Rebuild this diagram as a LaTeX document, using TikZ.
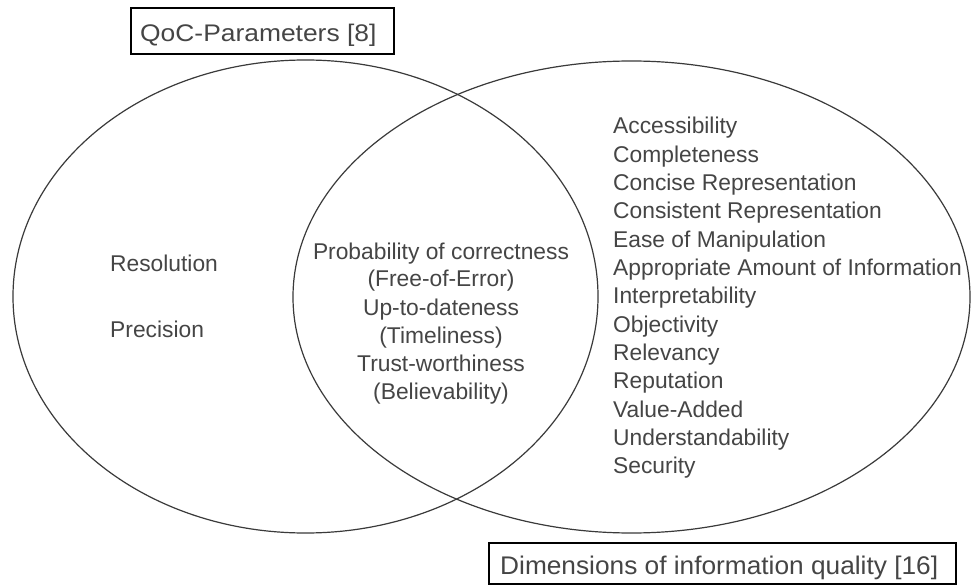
\documentclass[tikz,border=0pt]{standalone}
\usepackage{fontspec}
\setmainfont{Liberation Sans}
\definecolor{inkline}{HTML}{3A3A3A}
\definecolor{inktext}{HTML}{454545}
\begin{document}
\begin{tikzpicture}[x=1pt,y=-1pt,
  label/.style={inner sep=0pt,text=inktext,font=\fontsize{22.8}{28}\selectfont},
  setline/.style={draw=inkline,line width=1.2pt},
  titlebox/.style={draw=black,line width=1.3pt,fill=none}]
\useasboundingbox (0,0) rectangle (971,585);
\fill[white] (0,0) rectangle (971,585);

% the two overlapping sets
\draw[setline] (305.5,296.5) ellipse [x radius=292.5pt, y radius=236.5pt];
\draw[setline] (631.5,297) ellipse [x radius=338.5pt, y radius=236pt];

% set titles in frames
\draw[titlebox] (131,8) rectangle (394,54);
\node[label,anchor=base west,font=\fontsize{24}{28}\selectfont\addfontfeature{FakeStretch=1.1}] (qoc) at (140,42) {QoC-Parameters [8]};
\draw[titlebox] (489,543) rectangle (956,584);
\node[label,anchor=base west,font=\fontsize{25.5}{28}\selectfont\addfontfeature{FakeStretch=1.03}] (diq) at (500,574) {Dimensions of information quality [16]};

% left-only items
\node[label,anchor=base west] (res) at (110,272) {Resolution};
\node[label,anchor=base west] (pre) at (110,337) {Precision};

% shared items
\foreach \t [count=\i] in {Probability of correctness,(Free-of-Error),Up-to-dateness,(Timeliness),Trust-worthiness,(Believability)}
  \node[label,anchor=base] (mid\i) at (441,{259+28*(\i-1)}) {\t};

% right-only items
\foreach \t [count=\i] in {Accessibility,Completeness,Concise Representation,Consistent Representation,Ease of Manipulation,Appropriate Amount of Information,Interpretability,Objectivity,Relevancy,Reputation,Value-Added,Understandability,Security}
  \node[label,anchor=base west] (dim\i) at (613,{134+28.3*(\i-1)}) {\t};
\end{tikzpicture}
\end{document}
